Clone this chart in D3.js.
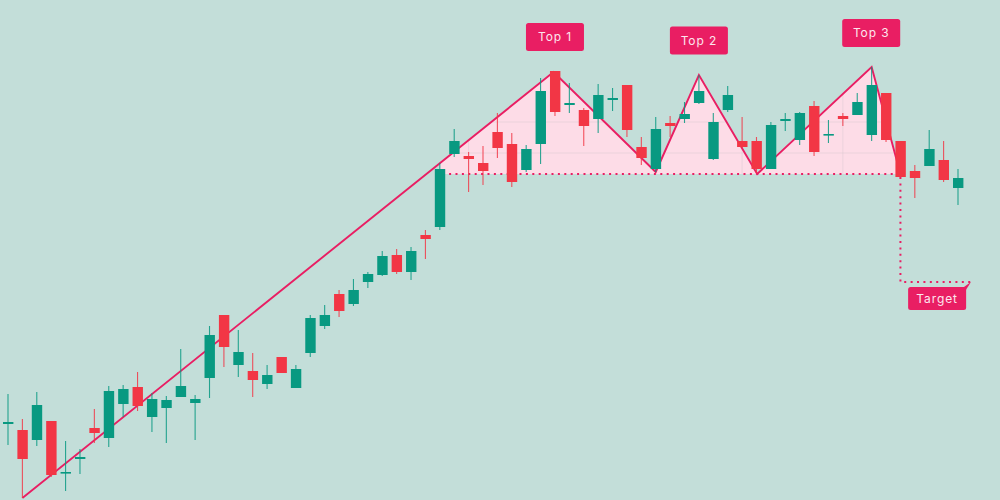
<!DOCTYPE html>
<html>
<head>
<meta charset="utf-8">
<script src="https://cdn.jsdelivr.net/npm/d3@7"></script>
<style>
  html, body { margin: 0; padding: 0; background: #c3ded9; }
  svg { display: block; }
</style>
</head>
<body>
<svg id="chart" width="1000" height="500"></svg>
<script>
const opens = [76,70,60,79,27,41,72,62,96,113,83,92,103,97,122,185,135,129,116,143,112,147,174,206,196,218,225,245,228,265,273,346,344,337,368,356,330,356,429,395,390,381,400,415,353,331,377,381,397,341,390,359,359,331,379,360,394,365,384,385,365,407,359,329,334,340,312];
const highs = [106,81,108,79,59,51,91,114,115,128,107,104,151,105,174,185,170,147,135,143,135,185,195,210,221,228,249,251,253,270,337,371,348,354,387,367,355,422,429,417,392,416,412,415,363,383,384,398,425,387,414,383,363,378,387,388,399,380,387,407,433,407,359,335,370,359,331];
const lows = [55,2,54,23,9,26,57,53,83,89,68,57,103,60,102,133,123,103,111,127,112,143,171,183,194,212,224,226,220,241,270,343,308,315,342,313,328,336,384,387,354,367,389,363,335,328,363,377,396,340,388,352,327,331,369,355,344,357,374,385,359,358,323,302,334,318,295];
const closes = [78,41,95,25,28,43,67,109,111,94,101,100,114,101,165,153,148,120,125,127,131,182,185,189,210,226,244,228,249,261,331,359,341,329,352,318,351,409,388,397,374,405,402,370,342,371,374,386,409,378,405,353,331,375,381,387,348,366,381,398,415,360,323,322,351,320,322];

// pattern pivots, bar index and price
const patternBars = [1,37.9,45,48,52.05,60,62];
const patternPrices = [2,428,328,425,326,433,326];
const neckline = 326;
const necklineStart = 30.2;
const necklineEnd = 62;
const fillBars = [30,37.9,45,48,52.05,60,62];
const fillPrices = [337,428,328,425,326,433,326];
const gridPrices = [378,347];
const gridBars = [32,51,58];

const targetBars = [62,62,66.9];
const targetPrices = [323,218,218];

const labelTexts = ['Top 1','Top 2','Top 3','Target'];
const labelBars = [38,48,59.97,64.55];
const labelPrices = [463,459.5,467,201.5];

const BG = '#c3ded9', GREEN = '#089981', RED = '#f23645', PINK = '#e91e63';

const svg = d3.select('#chart');
const x = d3.scaleLinear().domain([0, 66]).range([8, 958]);
const y = d3.scaleLinear().domain([0, 500]).range([500, 0]);

svg.append('rect').attr('width', 1000).attr('height', 500).attr('fill', BG);

// shaded pattern area
const area = d3.line().x((d) => x(d[0])).y((d) => y(d[1]));
const fillPts = d3.zip(fillBars, fillPrices).concat([[fillBars[fillBars.length - 1], neckline], [fillBars[0], neckline]]);
svg.append('clipPath').attr('id', 'patternClip')
  .append('path').attr('d', area(fillPts) + 'Z');
svg.append('path')
  .attr('d', area(fillPts) + 'Z')
  .attr('fill', '#fddce7');

const grid = svg.append('g').attr('clip-path', 'url(#patternClip)')
  .attr('stroke', '#d3c4cd').attr('stroke-opacity', 0.4).attr('stroke-width', 1);
grid.selectAll('line.h').data(gridPrices).enter().append('line')
  .attr('class', 'h')
  .attr('x1', 400).attr('x2', 920)
  .attr('y1', (d) => y(d)).attr('y2', (d) => y(d));
grid.selectAll('line.v').data(gridBars).enter().append('line')
  .attr('class', 'v')
  .attr('y1', 50).attr('y2', 190)
  .attr('x1', (d) => x(d)).attr('x2', (d) => x(d));

// zigzag
svg.append('path')
  .attr('d', area(d3.zip(patternBars, patternPrices)))
  .attr('fill', 'none')
  .attr('stroke', PINK)
  .attr('stroke-width', 1.9);

// dotted neckline and target
svg.append('line')
  .attr('x1', x(necklineStart)).attr('x2', x(necklineEnd))
  .attr('y1', y(neckline)).attr('y2', y(neckline))
  .attr('stroke', PINK).attr('stroke-width', 2).attr('stroke-dasharray', '2 4.4');
svg.append('path')
  .attr('d', area(d3.zip(targetBars, targetPrices)))
  .attr('fill', 'none')
  .attr('stroke', PINK).attr('stroke-width', 2).attr('stroke-dasharray', '2 4.4');

// candles
const candles = opens.map((o, i) => ({ i, o, h: highs[i], l: lows[i], c: closes[i] }));
const color = (d) => (d.c >= d.o ? GREEN : RED);
const g = svg.append('g');
g.selectAll('line.wick').data(candles).enter().append('line')
  .attr('class', 'wick')
  .attr('x1', (d) => x(d.i)).attr('x2', (d) => x(d.i))
  .attr('y1', (d) => y(d.h)).attr('y2', (d) => y(d.l))
  .attr('stroke', color).attr('stroke-width', 1.1).attr('stroke-opacity', 0.85);
g.selectAll('rect.body').data(candles).enter().append('rect')
  .attr('class', 'body')
  .attr('x', (d) => x(d.i) - 5)
  .attr('width', 10.4)
  .attr('y', (d) => y(Math.max(d.o, d.c)))
  .attr('height', (d) => Math.max(1.6, Math.abs(y(d.o) - y(d.c))))
  .attr('fill', color);

// labels
const labels = labelTexts.map((t, i) => ({ t, bar: labelBars[i], price: labelPrices[i], h: t === 'Target' ? 23 : 28 }));
const lab = svg.selectAll('g.label').data(labels).enter().append('g')
  .attr('class', 'label')
  .attr('transform', (d) => `translate(${x(d.bar)},${y(d.price)})`);
lab.append('rect')
  .attr('x', -29).attr('width', 58)
  .attr('y', (d) => -d.h / 2).attr('height', (d) => d.h)
  .attr('rx', 2.5)
  .attr('fill', PINK);
lab.append('text')
  .attr('text-anchor', 'middle')
  .attr('dy', '0.35em')
  .attr('fill', '#fde6ee')
  .attr('font-family', 'Inter, "Open Sans", sans-serif')
  .attr('font-size', 12)
  .attr('letter-spacing', 0.9)
  .text((d) => d.t);

// Target callout tail
const tx = x(targetBars[2]);
const ty = y(targetPrices[2]);
svg.append('path')
  .attr('d', d3.line()([[tx, ty], [tx - 7, ty + 5], [tx - 7, ty + 11]]) + 'Z')
  .attr('fill', PINK);
</script>
</body>
</html>
